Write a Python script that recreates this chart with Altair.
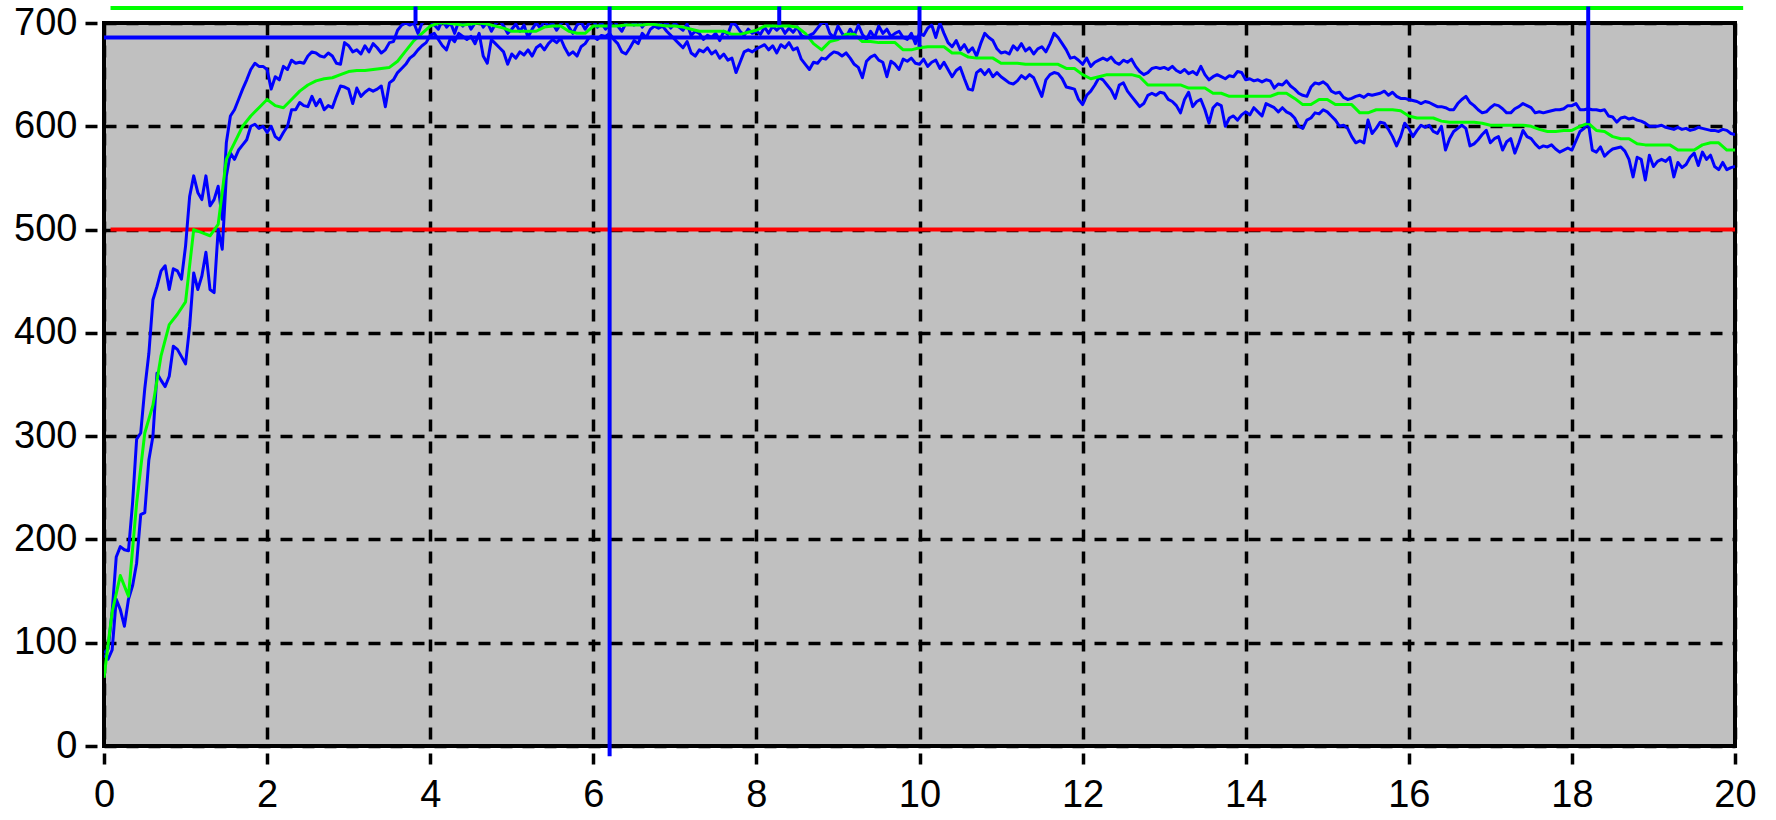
import altair as alt
import pandas as pd

# sampling positions (time axis)
x_blue = [round(i * 0.05, 2) for i in range(401)]
x_green = [round(i * 0.1, 1) for i in range(201)]

upper_blue = (
    [90, 94, 130, 183, 193, 190, 189, 235, 297, 303, 346, 380, 432, 445, 460, 465, 442, 462, 460, 452]
    + [484, 532, 552, 536, 529, 552, 523, 529, 542, 510, 584, 610, 616, 626, 636, 645, 655, 661, 658, 658]
    + [655, 636, 648, 645, 658, 655, 664, 661, 662, 661, 668, 672, 671, 668, 667, 671, 668, 661, 660, 681]
    + [678, 672, 674, 670, 678, 672, 680, 676, 671, 674, 681, 682, 693, 698, 700, 698, 700, 690, 700, 703]
    + [702, 698, 694, 703, 696, 700, 690, 702, 697, 703, 694, 700, 704, 696, 701, 692, 699, 703, 697, 690]
    + [694, 699, 692, 698, 686, 694, 700, 695, 702, 697, 700, 693, 699, 703, 696, 690, 698, 701, 694, 700]
    + [702, 696, 700, 694, 698, 703, 697, 692, 700, 705, 698, 703, 696, 701, 704, 699, 702, 697, 700, 695]
    + [700, 696, 693, 699, 688, 692, 690, 684, 688, 686, 690, 683, 692, 689, 700, 698, 692, 688, 694, 690]
    + [692, 689, 696, 690, 697, 693, 697, 690, 695, 691, 696, 688, 686, 688, 690, 695, 700, 701, 690, 686]
    + [697, 690, 686, 694, 688, 698, 689, 684, 692, 686, 697, 690, 694, 687, 690, 692, 686, 684, 690, 680]
    + [690, 688, 695, 698, 686, 700, 690, 681, 677, 683, 674, 679, 672, 676, 668, 680, 690, 686, 683, 675]
    + [671, 672, 670, 678, 674, 680, 673, 676, 670, 675, 677, 672, 680, 690, 686, 680, 674, 666, 667, 664]
    + [660, 666, 658, 662, 664, 666, 664, 667, 662, 660, 664, 662, 665, 658, 653, 650, 652, 656, 657, 656]
    + [657, 655, 658, 654, 652, 655, 651, 653, 650, 658, 650, 645, 648, 650, 648, 646, 649, 648, 653, 652]
    + [645, 646, 644, 645, 643, 645, 644, 637, 641, 640, 644, 639, 636, 632, 630, 629, 638, 642, 641, 643]
    + [640, 634, 632, 633, 628, 626, 627, 629, 630, 628, 631, 630, 631, 632, 634, 630, 633, 629, 627, 627]
    + [626, 625, 624, 622, 624, 623, 621, 619, 619, 618, 616, 616, 622, 626, 629, 623, 620, 616, 613, 614]
    + [618, 621, 620, 617, 613, 613, 617, 619, 622, 620, 618, 613, 614, 613, 614, 615, 616, 616, 617, 620]
    + [620, 622, 616, 616, 617, 616, 616, 615, 616, 610, 609, 604, 608, 609, 607, 608, 606, 605, 603, 600]
    + [600, 600, 601, 599, 598, 597, 599, 597, 598, 596, 597, 599, 598, 597, 596, 596, 595, 597, 596, 593, 592]
)

lower_blue = (
    [88, 84, 93, 142, 132, 116, 142, 155, 177, 224, 226, 277, 300, 361, 354, 348, 358, 387, 384, 377]
    + [370, 406, 458, 442, 455, 478, 442, 439, 500, 481, 552, 574, 568, 577, 582, 587, 600, 602, 598, 600]
    + [594, 600, 590, 587, 594, 600, 616, 616, 623, 620, 619, 629, 620, 626, 616, 620, 618, 629, 639, 638]
    + [636, 622, 637, 629, 633, 636, 634, 636, 639, 619, 642, 645, 652, 656, 660, 666, 669, 674, 678, 681]
    + [688, 690, 684, 678, 674, 686, 682, 690, 687, 684, 687, 680, 690, 668, 661, 684, 680, 676, 672, 660]
    + [670, 666, 672, 669, 674, 668, 676, 679, 674, 680, 684, 681, 685, 676, 669, 672, 668, 677, 680, 686]
    + [687, 684, 688, 687, 690, 684, 680, 672, 670, 676, 683, 680, 690, 686, 694, 697, 695, 697, 692, 688]
    + [684, 680, 676, 682, 671, 668, 674, 672, 676, 670, 673, 666, 670, 664, 666, 652, 662, 672, 674, 672]
    + [675, 677, 679, 674, 678, 671, 679, 676, 681, 674, 676, 665, 660, 655, 662, 661, 666, 665, 669, 672]
    + [671, 668, 671, 666, 660, 657, 647, 663, 667, 669, 664, 662, 648, 663, 660, 655, 665, 663, 666, 661]
    + [660, 665, 658, 662, 664, 656, 662, 655, 648, 654, 657, 646, 636, 635, 652, 655, 650, 655, 648, 652]
    + [648, 645, 642, 641, 644, 649, 646, 650, 647, 638, 629, 645, 650, 652, 651, 646, 638, 637, 636, 626]
    + [621, 630, 634, 640, 647, 645, 640, 635, 627, 640, 642, 634, 629, 624, 619, 622, 630, 632, 630, 633]
    + [632, 626, 624, 620, 613, 626, 633, 619, 624, 626, 616, 603, 618, 622, 620, 600, 608, 610, 606, 611]
    + [614, 611, 618, 614, 610, 622, 620, 618, 614, 618, 614, 612, 608, 600, 598, 606, 608, 613, 612, 616]
    + [614, 610, 606, 600, 601, 598, 590, 584, 586, 584, 606, 593, 598, 604, 603, 597, 590, 581, 590, 603]
    + [598, 590, 596, 601, 599, 601, 595, 593, 600, 577, 588, 595, 598, 601, 598, 581, 583, 587, 592, 596]
    + [584, 588, 590, 577, 585, 588, 574, 584, 596, 590, 588, 583, 579, 581, 580, 582, 578, 575, 577, 579]
    + [577, 586, 595, 598, 604, 577, 575, 580, 571, 575, 578, 579, 580, 576, 568, 551, 570, 568, 548, 572]
    + [561, 566, 568, 566, 570, 551, 565, 560, 563, 570, 574, 562, 575, 568, 572, 561, 558, 565, 558, 560, 561]
)

green_avg = (
    [66, 130, 165, 145, 235, 303, 330, 378, 408, 418]
    + [430, 500, 497, 494, 505, 568, 584, 600, 610, 618]
    + [626, 620, 618, 626, 634, 640, 644, 646, 647, 650]
    + [653, 654, 654, 655, 656, 657, 663, 673, 683, 690]
    + [697, 700, 700, 699, 698, 699, 700, 699, 697, 695]
    + [692, 692, 692, 692, 696, 697, 697, 692, 690, 690]
    + [697, 697, 697, 697, 698, 698, 698, 699, 698, 697]
    + [697, 696, 694, 692, 692, 692, 692, 689, 689, 691]
    + [693, 697, 697, 697, 697, 696, 690, 680, 674, 682]
    + [684, 689, 689, 682, 682, 681, 681, 681, 674, 674]
    + [676, 677, 677, 677, 671, 671, 667, 666, 666, 666]
    + [661, 661, 661, 660, 660, 660, 660, 660, 656, 656]
    + [650, 646, 648, 650, 650, 650, 650, 648, 640, 640]
    + [640, 640, 640, 637, 637, 637, 632, 632, 629, 629]
    + [629, 629, 629, 629, 632, 632, 627, 621, 621, 626]
    + [626, 621, 621, 621, 613, 613, 616, 616, 616, 615]
    + [610, 608, 608, 608, 605, 604, 604, 604, 604, 603]
    + [601, 601, 601, 601, 601, 600, 597, 595, 595, 596]
    + [596, 600, 603, 596, 595, 590, 588, 588, 583, 582]
    + [582, 582, 582, 577, 577, 577, 582, 584, 584, 577, 577]
)

x_ticks = [0, 2, 4, 6, 8, 10, 12, 14, 16, 18, 20]
y_ticks = [0, 100, 200, 300, 400, 500, 600, 700]

red_start, red_end, red_level = [0.08], [20], [500]
top_start, top_end, top_level = [0.08], [20.1], [714.5]
cursor_start, cursor_end, cursor_level = [0], [10], [686]
marker_x = [3.82, 6.2, 8.28, 10.0, 18.2]
marker_top = [716, 716, 716, 716, 716]
marker_bottom = [699, -10, 698, 677, 603]

FONT = "Liberation Sans"

x_axis = alt.Axis(values=x_ticks, title=None, grid=True, gridColor="black", gridDash=[12, 10],
                  gridWidth=3.5, domain=False, tickColor="black", tickWidth=3.5, tickSize=18,
                  tickDash=[0, 7, 11, 100], labelFont=FONT, labelFontSize=38, labelColor="black",
                  labelPadding=12, labelFlush=False)
y_axis = alt.Axis(values=y_ticks, title=None, grid=True, gridColor="black", gridDash=[12, 10],
                  gridWidth=3.5, domain=False, tickColor="black", tickWidth=3.5, tickSize=19,
                  tickDash=[0, 7, 12, 100], labelFont=FONT, labelFontSize=38, labelColor="black",
                  labelPadding=8, labelFlush=False)
xs = alt.Scale(domain=[0, 20], nice=False, zero=False)
ys = alt.Scale(domain=[0, 700], nice=False)

X = alt.X("x:Q", scale=xs, axis=x_axis)
Y = alt.Y("y:Q", scale=ys, axis=y_axis)

df_blue = pd.DataFrame({"x": x_blue, "upper": upper_blue, "lower": lower_blue})
df_green = pd.DataFrame({"x": x_green, "y": green_avg})

red = alt.Chart(pd.DataFrame({"x": red_start, "x2": red_end, "y": red_level})).mark_rule(
    color="#FF0000", strokeWidth=4).encode(x=X, x2="x2:Q", y=Y)

up = alt.Chart(df_blue).mark_line(color="#0000FF", strokeWidth=3, clip=True, strokeJoin="round").encode(
    x=X, y=alt.Y("upper:Q", scale=ys, axis=y_axis))
lo = alt.Chart(df_blue).mark_line(color="#0000FF", strokeWidth=3, clip=True, strokeJoin="round").encode(
    x=X, y=alt.Y("lower:Q", scale=ys, axis=y_axis))
gr = alt.Chart(df_green).mark_line(color="#00FF00", strokeWidth=3, clip=True, strokeJoin="round").encode(
    x=X, y=Y)

cursor = alt.Chart(pd.DataFrame({"x": cursor_start, "x2": cursor_end, "y": cursor_level})).mark_rule(
    color="#0000FF", strokeWidth=4).encode(x=X, x2="x2:Q", y=Y)
top = alt.Chart(pd.DataFrame({"x": top_start, "x2": top_end, "y": top_level})).mark_rule(
    color="#00FF00", strokeWidth=4, clip=False).encode(x=X, x2="x2:Q", y=Y)
markers = alt.Chart(pd.DataFrame({"x": marker_x, "y": marker_top, "y2": marker_bottom})).mark_rule(
    color="#0000FF", strokeWidth=4, clip=False).encode(x=X, y=Y, y2="y2:Q")

chart = alt.layer(red, up, lo, gr, cursor, top, markers).properties(
    width=1631, height=723,
    padding={"left": 104, "top": 23, "right": 41, "bottom": 74},
    autosize=alt.AutoSizeParams(type="none"),
    background="white",
).configure_view(fill="#C0C0C0", stroke="black", strokeWidth=4)

chart.save("out.html", embed_options={"renderer": "svg", "actions": False})
